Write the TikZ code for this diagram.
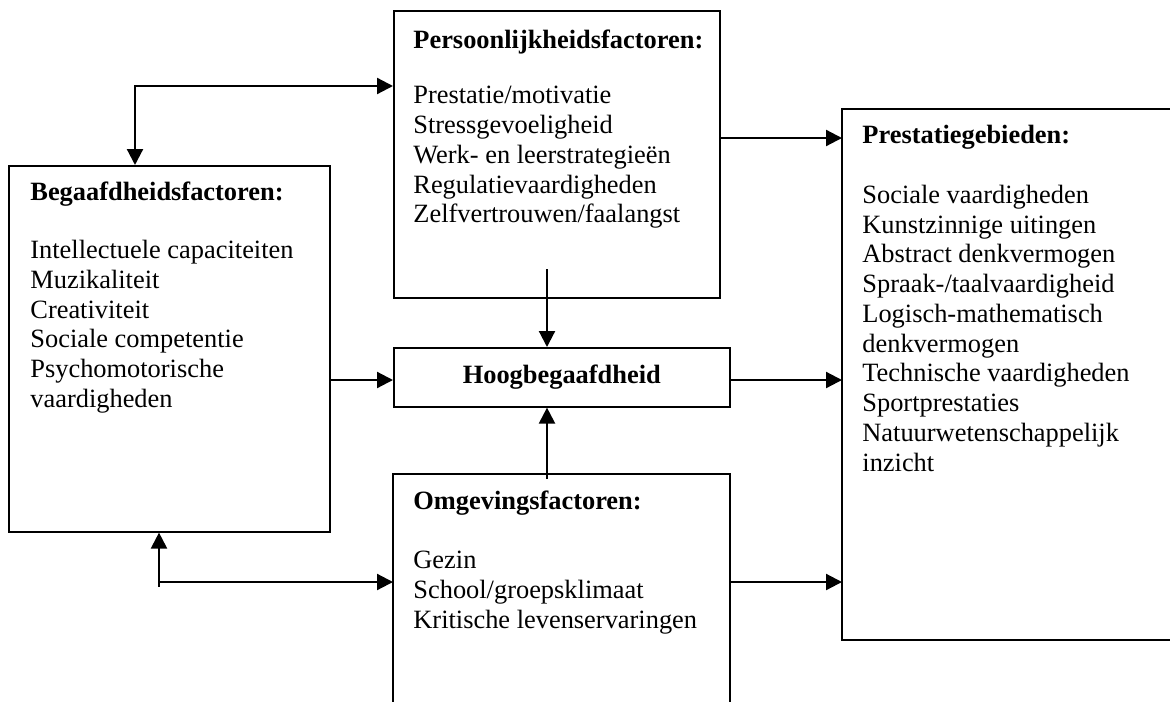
\documentclass[tikz,border=0pt]{standalone}
\usepackage{fontspec}
\setmainfont{Liberation Serif}
\usetikzlibrary{arrows.meta,calc}
\begin{document}
\begin{tikzpicture}[x=0.5pt,y=-0.5pt,
  box/.style={draw, line width=0.8pt, inner sep=0pt, anchor=north west},
  openbox/.style={draw=none, inner sep=0pt, anchor=north west},
  boxline/.style={line width=0.8pt},
  txt/.style={anchor=north west, inner sep=0pt, align=left, font=\fontsize{13.2}{14.875}\selectfont},
  conn/.style={line width=1.1pt},
  arr/.style={conn, -{Triangle[length=8pt,width=8pt]}},
  dblarr/.style={conn, {Triangle[length=8pt,width=8pt]}-{Triangle[length=8pt,width=8pt]}}]
\useasboundingbox (0,0) rectangle (1170,701);
% boxes
\node[box, minimum width=163pt, minimum height=143.5pt] (pers) at (393,10) {};
\node[box, minimum width=160.5pt, minimum height=183pt] (beg) at (8,165) {};
\node[box, minimum width=168pt, minimum height=29.5pt, font=\fontsize{13.2}{14.875}\selectfont\bfseries] (hoog) at (393,347) {Hoogbegaafdheid};
\node[openbox, minimum width=168pt, minimum height=113.5pt] (om) at (393,474) {};
\draw[boxline] (om.south west) -- (om.north west) -- (om.north east) -- (om.south east);
\node[openbox, minimum width=164pt, minimum height=265pt] (prest) at (842,109) {};
\draw[boxline] (prest.north east) -- (prest.north west) -- (prest.south west) -- (prest.south east);
% texts
\node[txt] (perst) at (413,30) {\textbf{Persoonlijkheidsfactoren:}\\[12.6pt]
Prestatie/motivatie\\ Stressgevoeligheid\\ Werk- en leerstrategieën\\ Regulatievaardigheden\\ Zelfvertrouwen/faalangst};
\node[txt] (begt) at (30,181.6) {\textbf{Begaafdheidsfactoren:}\\[14.1pt]
Intellectuele capaciteiten\\ Muzikaliteit\\ Creativiteit\\ Sociale competentie\\ Psychomotorische\\ vaardigheden};
\node[txt] (prestt) at (862,124.6) {\textbf{Prestatiegebieden:}\\[15.1pt]
Sociale vaardigheden\\ Kunstzinnige uitingen\\ Abstract denkvermogen\\ Spraak-/taalvaardigheid\\ Logisch-mathematisch\\ denkvermogen\\ Technische vaardigheden\\ Sportprestaties\\ Natuurwetenschappelijk\\ inzicht};
\node[txt] (omt) at (413,490.6) {\textbf{Omgevingsfactoren:}\\[14.6pt]
Gezin\\ School/groepsklimaat\\ Kritische levenservaringen};
% connectors
\coordinate (tl) at (135,86);
\draw[dblarr] (beg.north -| tl) |- (pers.west |- tl);
\coordinate (pr) at (0,138);
\draw[arr] (pers.east |- pr) -- (prest.west |- pr);
\coordinate (pd) at (547,269);
\draw[arr] (pd) -- (hoog.north -| pd);
\coordinate (hy) at (0,380);
\draw[arr] (beg.east |- hy) -- (hoog.west |- hy);
\draw[arr] (hoog.east |- hy) -- (prest.west |- hy);
\coordinate (ou) at (547,479);
\draw[arr] (ou) -- (hoog.south -| ou);
\coordinate (bl) at (159,582);
\draw[dblarr] (beg.south -| bl) |- (om.west |- bl);
\coordinate (blend) at (159,587);
\draw[conn] (bl) -- (blend);
\draw[arr] (om.east |- bl) -- (prest.west |- bl);
\end{tikzpicture}
\end{document}
